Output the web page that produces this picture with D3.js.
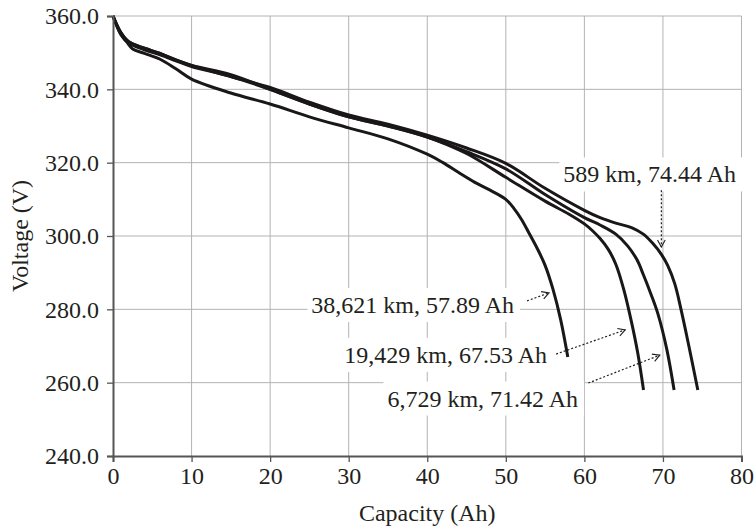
<!DOCTYPE html>
<html>
<head>
<meta charset="utf-8">
<script src="https://cdn.jsdelivr.net/npm/d3@7"></script>
<style>
  body { margin: 0; background: #fff; }
  text { font-family: "Liberation Serif", "Times New Roman", serif; fill: #231f20; }
</style>
</head>
<body>
<svg id="chart" width="755" height="528"></svg>
<script>
// discharge curves, capacity (Ah) vs pack voltage (V)
const cap589 = [0, 1, 2, 4, 6, 8, 10, 15, 20, 25, 30, 35, 40, 45, 50, 55, 60, 62, 64, 66, 67.5, 68.7, 69.8, 70.6, 71.5, 72.3, 73.3, 74.44]
const volt589 = [360, 355.5, 353, 351.2, 349.8, 348, 346.5, 343.5, 340.5, 336.5, 333, 330.5, 327.5, 324, 319.8, 313, 307, 305, 303.5, 302.3, 300.5, 298, 295, 292, 287, 280, 270, 258]

const cap6729 = [0, 1, 2, 4, 6, 8, 10, 15, 20, 25, 30, 35, 40, 45, 50, 55, 60, 62, 64, 65.5, 66.7, 67.5, 68.5, 69.4, 70.5, 71.42]
const volt6729 = [360, 355.5, 353, 351.2, 349.8, 348, 346.5, 344, 340, 336, 332.5, 330, 327, 323, 318.3, 311.3, 305, 303, 300.5, 297.3, 293.5, 289.5, 284, 278.5, 269, 258]

const cap19429 = [0, 1, 2, 4, 6, 8, 10, 15, 20, 25, 30, 35, 40, 45, 50, 55, 58, 60, 61, 62, 63, 64, 65, 66, 66.8, 67.53]
const volt19429 = [360, 355, 352.6, 350.8, 349.4, 347.8, 346.2, 343.5, 340, 336, 332.5, 330, 327, 322.5, 316, 309.5, 306, 303.3, 301.5, 299.3, 296.5, 292.3, 285.5, 276.5, 268, 258]

const cap38621 = [0, 1, 1.8, 2.5, 4, 6, 8, 10, 15, 20, 25, 30, 35, 40, 42, 44, 46, 48, 50, 51, 52, 53, 54, 55, 56, 57, 57.89]
const volt38621 = [360, 355, 352.8, 351, 349.8, 348.2, 345.6, 342.8, 339, 336, 332.5, 329.5, 326.5, 322.3, 320, 317.3, 314.7, 312.5, 310, 307.6, 304.5, 300.6, 296.6, 292, 285.5, 277, 267]

const xTicks = [0, 10, 20, 30, 40, 50, 60, 70, 80]
const yTicks = [240, 260, 280, 300, 320, 340, 360]

// callouts: text, text end (Ah, V), arrow from/to (Ah, V)
const labelText = ["589 km, 74.44 Ah", "38,621 km, 57.89 Ah", "19,429 km, 67.53 Ah", "6,729 km, 71.42 Ah"]
const labelAt = [[79.3, 314.6], [51.05, 279], [55.25, 265.4], [59.2, 253.5]]
const arrowFrom = [[69.8, 312.5], [52.7, 282.3], [56.4, 267.8], [60.5, 259.9]]
const arrowTo = [[69.8, 297], [55.5, 284.5], [65.2, 274.4], [69.6, 267.5]]

const series = [
  {cap: cap589, volt: volt589},
  {cap: cap6729, volt: volt6729},
  {cap: cap19429, volt: volt19429},
  {cap: cap38621, volt: volt38621}
]

const svg = d3.select("#chart")
const margin = {top: 16, right: 13.5, bottom: 72, left: 113}
const W = 755, H = 528

const x = d3.scaleLinear().domain([0, 80]).range([margin.left, W - margin.right])
const y = d3.scaleLinear().domain([240, 360]).range([H - margin.bottom, margin.top])

// grid
svg.append("g")
  .selectAll("line.vg")
  .data(xTicks.slice(1))
  .join("line")
  .attr("x1", d => x(d)).attr("x2", d => x(d))
  .attr("y1", y(240)).attr("y2", y(360))
  .attr("stroke", "#b3b3b3").attr("stroke-width", 1)

svg.append("g")
  .selectAll("line.hg")
  .data(yTicks.slice(1))
  .join("line")
  .attr("x1", x(0)).attr("x2", x(80))
  .attr("y1", d => y(d)).attr("y2", d => y(d))
  .attr("stroke", "#b3b3b3").attr("stroke-width", 1)

// curves
const line = d3.line()
  .x(d => x(d[0]))
  .y(d => y(d[1]))
  .curve(d3.curveCatmullRom.alpha(0.5))

svg.append("g")
  .selectAll("path")
  .data(series)
  .join("path")
  .attr("d", s => line(s.cap.map((c, i) => [c, s.volt[i]])))
  .attr("fill", "none")
  .attr("stroke", "#1a1718")
  .attr("stroke-width", 3)
  .attr("stroke-linejoin", "round")

// callout boxes + text
const labels = svg.append("g")
labelText.forEach((t, i) => {
  const g = labels.append("g")
  const rect = g.append("rect").attr("fill", "#fff")
  const txt = g.append("text")
    .attr("x", x(labelAt[i][0]))
    .attr("y", y(labelAt[i][1]))
    .attr("text-anchor", "end")
    .attr("font-size", "24px")
    .text(t)
  const bb = txt.node().getBBox()
  rect.attr("x", bb.x - 4).attr("y", bb.y - 4)
    .attr("width", bb.width + 10).attr("height", bb.height + 8)
})

// dotted arrows
const arrows = svg.append("g")
arrowFrom.forEach((f, i) => {
  const x1 = x(f[0]), y1 = y(f[1])
  const x2 = x(arrowTo[i][0]), y2 = y(arrowTo[i][1])
  arrows.append("line")
    .attr("x1", x1).attr("y1", y1).attr("x2", x2).attr("y2", y2)
    .attr("stroke", "#231f20").attr("stroke-width", 1.2)
    .attr("stroke-dasharray", "2,2")
  const a = Math.atan2(y2 - y1, x2 - x1)
  const len = 8, spread = 0.5
  const pts = [
    [x2 - len * Math.cos(a - spread), y2 - len * Math.sin(a - spread)],
    [x2, y2],
    [x2 - len * Math.cos(a + spread), y2 - len * Math.sin(a + spread)]
  ]
  arrows.append("path")
    .attr("d", d3.line()(pts))
    .attr("fill", "none")
    .attr("stroke", "#231f20").attr("stroke-width", 1.1)
})

// axes
const xAxis = svg.append("g")
  .attr("transform", `translate(0,${y(240)})`)
  .call(d3.axisBottom(x).tickValues(xTicks).tickSize(6).tickPadding(5).tickFormat(d3.format("d")))
const yAxis = svg.append("g")
  .attr("transform", `translate(${x(0)},0)`)
  .call(d3.axisLeft(y).tickValues(yTicks).tickSize(6).tickPadding(8).tickFormat(d3.format(".1f")))

;[xAxis, yAxis].forEach(a => {
  a.select(".domain").attr("stroke", "#555").attr("stroke-width", 2)
  a.selectAll(".tick line").attr("stroke", "#555").attr("stroke-width", 1.3)
  a.selectAll(".tick text")
    .attr("font-family", "Liberation Serif, serif")
    .attr("font-size", "24px")
    .attr("fill", "#231f20")
})

// axis titles
svg.append("text")
  .attr("x", (x(0) + x(80)) / 2)
  .attr("y", 521)
  .attr("text-anchor", "middle")
  .attr("font-size", "24px")
  .text("Capacity (Ah)")

svg.append("text")
  .attr("transform", `translate(28,${(y(240) + y(360)) / 2}) rotate(-90)`)
  .attr("text-anchor", "middle")
  .attr("font-size", "24px")
  .text("Voltage (V)")
</script>
</body>
</html>
